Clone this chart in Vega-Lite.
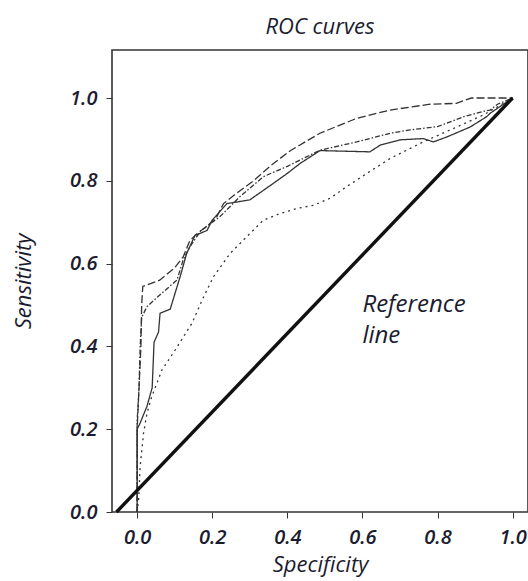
{
  "$schema": "https://vega.github.io/schema/vega-lite/v6.json",
  "autosize": {"type": "none"},
  "padding": {"left": 112, "top": 50, "right": 0, "bottom": 69},
  "width": 416,
  "height": 462,
  "background": "white",
  "title": {"text": "ROC curves", "anchor": "middle", "font": "Open Sans", "fontSize": 22, "fontStyle": "italic", "fontWeight": "normal", "color": "#1c1c30", "baseline": "alphabetic", "offset": 18, "dy": 24},
  "datasets": {
    "curves": [
      {"s": "A", "i": 1, "x": 0, "y": 0},
      {"s": "A", "i": 2, "x": 0, "y": 0.2},
      {"s": "A", "i": 3, "x": 0.005, "y": 0.3},
      {"s": "A", "i": 4, "x": 0.01, "y": 0.4},
      {"s": "A", "i": 5, "x": 0.012, "y": 0.5},
      {"s": "A", "i": 6, "x": 0.015, "y": 0.545},
      {"s": "A", "i": 7, "x": 0.06, "y": 0.56},
      {"s": "A", "i": 8, "x": 0.1, "y": 0.59},
      {"s": "A", "i": 9, "x": 0.123, "y": 0.617},
      {"s": "A", "i": 10, "x": 0.14, "y": 0.655},
      {"s": "A", "i": 11, "x": 0.16, "y": 0.673},
      {"s": "A", "i": 12, "x": 0.186, "y": 0.69},
      {"s": "A", "i": 13, "x": 0.212, "y": 0.713},
      {"s": "A", "i": 14, "x": 0.23, "y": 0.745},
      {"s": "A", "i": 15, "x": 0.265, "y": 0.77},
      {"s": "A", "i": 16, "x": 0.31, "y": 0.8},
      {"s": "A", "i": 17, "x": 0.363, "y": 0.842},
      {"s": "A", "i": 18, "x": 0.41, "y": 0.874},
      {"s": "A", "i": 19, "x": 0.487, "y": 0.915},
      {"s": "A", "i": 20, "x": 0.585, "y": 0.951},
      {"s": "A", "i": 21, "x": 0.674, "y": 0.971},
      {"s": "A", "i": 22, "x": 0.78, "y": 0.985},
      {"s": "A", "i": 23, "x": 0.85, "y": 0.987},
      {"s": "A", "i": 24, "x": 0.89, "y": 1.0},
      {"s": "A", "i": 25, "x": 1.0, "y": 1.0},
      {"s": "B", "i": 1, "x": 0, "y": 0},
      {"s": "B", "i": 2, "x": 0, "y": 0.22},
      {"s": "B", "i": 3, "x": 0.005, "y": 0.3},
      {"s": "B", "i": 4, "x": 0.008, "y": 0.4},
      {"s": "B", "i": 5, "x": 0.012, "y": 0.47},
      {"s": "B", "i": 6, "x": 0.026, "y": 0.496},
      {"s": "B", "i": 7, "x": 0.061, "y": 0.525},
      {"s": "B", "i": 8, "x": 0.106, "y": 0.56},
      {"s": "B", "i": 9, "x": 0.123, "y": 0.61},
      {"s": "B", "i": 10, "x": 0.14, "y": 0.64},
      {"s": "B", "i": 11, "x": 0.17, "y": 0.68},
      {"s": "B", "i": 12, "x": 0.22, "y": 0.713},
      {"s": "B", "i": 13, "x": 0.274, "y": 0.762},
      {"s": "B", "i": 14, "x": 0.336, "y": 0.81},
      {"s": "B", "i": 15, "x": 0.4, "y": 0.835},
      {"s": "B", "i": 16, "x": 0.487, "y": 0.874},
      {"s": "B", "i": 17, "x": 0.585, "y": 0.894},
      {"s": "B", "i": 18, "x": 0.674, "y": 0.915},
      {"s": "B", "i": 19, "x": 0.727, "y": 0.923},
      {"s": "B", "i": 20, "x": 0.8, "y": 0.931},
      {"s": "B", "i": 21, "x": 0.87, "y": 0.955},
      {"s": "B", "i": 22, "x": 0.92, "y": 0.967},
      {"s": "B", "i": 23, "x": 0.94, "y": 0.971},
      {"s": "B", "i": 24, "x": 0.96, "y": 0.985},
      {"s": "B", "i": 25, "x": 1.0, "y": 1.0},
      {"s": "C", "i": 1, "x": 0, "y": 0},
      {"s": "C", "i": 2, "x": 0, "y": 0.2},
      {"s": "C", "i": 3, "x": 0.008, "y": 0.215},
      {"s": "C", "i": 4, "x": 0.026, "y": 0.255},
      {"s": "C", "i": 5, "x": 0.04, "y": 0.3},
      {"s": "C", "i": 6, "x": 0.045, "y": 0.41},
      {"s": "C", "i": 7, "x": 0.057, "y": 0.435},
      {"s": "C", "i": 8, "x": 0.061, "y": 0.48},
      {"s": "C", "i": 9, "x": 0.088, "y": 0.49},
      {"s": "C", "i": 10, "x": 0.115, "y": 0.57},
      {"s": "C", "i": 11, "x": 0.132, "y": 0.625},
      {"s": "C", "i": 12, "x": 0.154, "y": 0.668},
      {"s": "C", "i": 13, "x": 0.186, "y": 0.68},
      {"s": "C", "i": 14, "x": 0.2, "y": 0.705},
      {"s": "C", "i": 15, "x": 0.239, "y": 0.745},
      {"s": "C", "i": 16, "x": 0.3, "y": 0.754},
      {"s": "C", "i": 17, "x": 0.363, "y": 0.794},
      {"s": "C", "i": 18, "x": 0.4, "y": 0.818},
      {"s": "C", "i": 19, "x": 0.434, "y": 0.842},
      {"s": "C", "i": 20, "x": 0.487, "y": 0.873},
      {"s": "C", "i": 21, "x": 0.62, "y": 0.87},
      {"s": "C", "i": 22, "x": 0.647, "y": 0.886},
      {"s": "C", "i": 23, "x": 0.7, "y": 0.899},
      {"s": "C", "i": 24, "x": 0.762, "y": 0.902},
      {"s": "C", "i": 25, "x": 0.789, "y": 0.894},
      {"s": "C", "i": 26, "x": 0.825, "y": 0.906},
      {"s": "C", "i": 27, "x": 0.887, "y": 0.93},
      {"s": "C", "i": 28, "x": 0.931, "y": 0.955},
      {"s": "C", "i": 29, "x": 0.94, "y": 0.963},
      {"s": "C", "i": 30, "x": 1.0, "y": 1.0},
      {"s": "D", "i": 1, "x": 0, "y": 0},
      {"s": "D", "i": 2, "x": 0.004, "y": 0.03},
      {"s": "D", "i": 3, "x": 0.008, "y": 0.11},
      {"s": "D", "i": 4, "x": 0.017, "y": 0.19},
      {"s": "D", "i": 5, "x": 0.026, "y": 0.238},
      {"s": "D", "i": 6, "x": 0.039, "y": 0.279},
      {"s": "D", "i": 7, "x": 0.066, "y": 0.343},
      {"s": "D", "i": 8, "x": 0.101, "y": 0.391},
      {"s": "D", "i": 9, "x": 0.146, "y": 0.456},
      {"s": "D", "i": 10, "x": 0.172, "y": 0.51},
      {"s": "D", "i": 11, "x": 0.203, "y": 0.568},
      {"s": "D", "i": 12, "x": 0.248, "y": 0.625},
      {"s": "D", "i": 13, "x": 0.292, "y": 0.665},
      {"s": "D", "i": 14, "x": 0.336, "y": 0.705},
      {"s": "D", "i": 15, "x": 0.381, "y": 0.721},
      {"s": "D", "i": 16, "x": 0.425, "y": 0.733},
      {"s": "D", "i": 17, "x": 0.47, "y": 0.741},
      {"s": "D", "i": 18, "x": 0.514, "y": 0.758},
      {"s": "D", "i": 19, "x": 0.558, "y": 0.786},
      {"s": "D", "i": 20, "x": 0.612, "y": 0.818},
      {"s": "D", "i": 21, "x": 0.674, "y": 0.854},
      {"s": "D", "i": 22, "x": 0.762, "y": 0.894},
      {"s": "D", "i": 23, "x": 0.851, "y": 0.93},
      {"s": "D", "i": 24, "x": 0.922, "y": 0.959},
      {"s": "D", "i": 25, "x": 1.0, "y": 1.0}
    ],
    "reference": [
      {"x": -0.055, "y": 0},
      {"x": 1.0, "y": 1.0}
    ],
    "labels": [
      {"x": 0.6, "y": 0.483, "t": "Reference"},
      {"x": 0.6, "y": 0.408, "t": "line"}
    ]
  },
  "layer": [
    {
      "data": {"name": "curves"},
      "mark": {"type": "line", "strokeWidth": 1.3, "color": "#333333", "clip": true},
      "encoding": {
        "x": {"field": "x", "type": "quantitative", "scale": {"domain": [-0.067, 1.041], "nice": false, "zero": false},
          "axis": {"title": "Specificity", "values": [0, 0.2, 0.4, 0.6, 0.8, 1.0], "format": ".1f", "titleY": 42, "titleBaseline": "top"}},
        "y": {"field": "y", "type": "quantitative", "scale": {"domain": [0, 1.116], "nice": false, "zero": false},
          "axis": {"title": "Sensitivity", "values": [0, 0.2, 0.4, 0.6, 0.8, 1.0], "format": ".1f", "titleX": -77, "titleBaseline": "bottom"}},
        "detail": {"field": "s"},
        "order": {"field": "i", "type": "quantitative"},
        "strokeDash": {"field": "s", "type": "nominal", "legend": null,
          "scale": {"domain": ["A", "B", "C", "D"], "range": [[8, 3], [5, 2, 1.5, 2], [1, 0], [2, 4]]}}
      }
    },
    {
      "data": {"name": "reference"},
      "mark": {"type": "line", "strokeWidth": 3.4, "color": "#111111"},
      "encoding": {
        "x": {"field": "x", "type": "quantitative"},
        "y": {"field": "y", "type": "quantitative"}
      }
    },
    {
      "data": {"name": "labels"},
      "mark": {"type": "text", "align": "left", "baseline": "alphabetic", "font": "Open Sans", "fontSize": 24, "fontStyle": "italic", "color": "#1c1c30"},
      "encoding": {
        "x": {"field": "x", "type": "quantitative"},
        "y": {"field": "y", "type": "quantitative"},
        "text": {"field": "t"}
      }
    }
  ],
  "config": {
    "view": {"stroke": "#333333", "strokeWidth": 1.6},
    "axis": {
      "domain": false,
      "grid": false,
      "tickColor": "#333333",
      "tickSize": 6,
      "tickWidth": 1,
      "labelFont": "Open Sans",
      "labelFontSize": 20,
      "labelFontStyle": "italic",
      "labelFontWeight": 600,
      "labelColor": "#1c1c30",
      "labelPadding": 9,
      "titleFont": "Open Sans",
      "titleFontSize": 22,
      "titleFontStyle": "italic",
      "titleFontWeight": "normal",
      "titleColor": "#1c1c30"
    }
  }
}
